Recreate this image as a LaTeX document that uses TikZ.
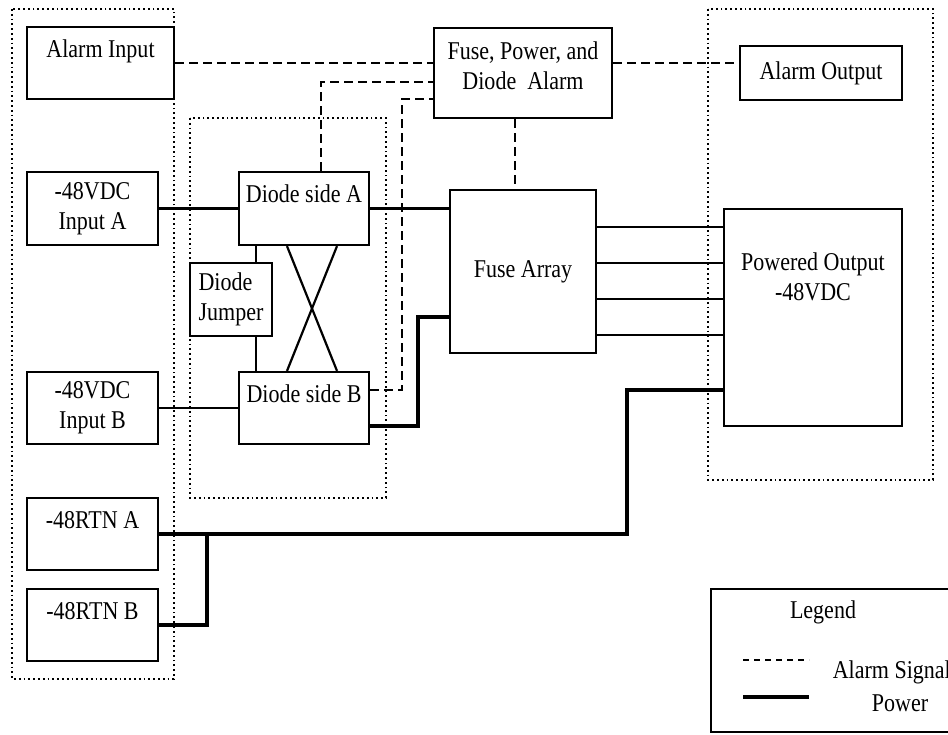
\documentclass[tikz,border=0pt]{standalone}
\usepackage{fontspec}
\setmainfont{Liberation Serif}[FakeStretch=0.86]
\begin{document}
\begin{tikzpicture}[x=0.5pt, y=-0.5pt, line width=1.1pt,
    font=\fontsize{12.8}{15}\selectfont,
    box/.style={draw, inner sep=2pt, align=center},
    toptext/.style={text depth=14.5pt},
    power/.style={line width=1.1pt},
    heavy/.style={line width=1.6pt},
    alarm/.style={line width=0.9pt, dash pattern=on 4.5pt off 2.5pt},
    group/.style={line width=0.9pt, dash pattern=on 0.9pt off 1.5pt}]
  \useasboundingbox (0,0) rectangle (948,734);
  \clip (0,0) rectangle (948,734);
  % groups
  \draw [group] (12,9) rectangle (174,679);
  \draw [group] (190,118) rectangle (386,498);
  \draw [group] (708,9) rectangle (933,480);
  % boxes
  \node [box, toptext, minimum width=73.5pt, minimum height=36pt] (ain) at (100.5,63) {Alarm Input};
  \node [box, minimum width=65.5pt, minimum height=36.5pt] (vina) at (92.5,208.5) {-48VDC\\Input A};
  \node [box, minimum width=65.5pt, minimum height=36pt] (vinb) at (92.5,408) {-48VDC\\Input B};
  \node [box, toptext, minimum width=65.5pt, minimum height=36pt] (rtna) at (92.5,534) {-48RTN A};
  \node [box, toptext, minimum width=65.5pt, minimum height=36pt] (rtnb) at (92.5,625) {-48RTN B};
  \node [box, toptext, minimum width=65pt, minimum height=36.5pt] (dsa) at (304,208.5) {Diode side A};
  \node [box, toptext, minimum width=65pt, minimum height=36pt] (dsb) at (304,408) {Diode side B};
  \node [box, align=left, minimum width=41pt, minimum height=36.5pt] (jmp) at (231,299.5) {Diode\\Jumper};
  \node [box, text depth=7pt, minimum width=89pt, minimum height=45pt] (fpa) at (523,73) {Fuse, Power, and\\Diode~~Alarm};
  \node [box, minimum width=81pt, minimum height=27pt] (aout) at (821,73) {Alarm Output};
  \node [box, minimum width=73pt, minimum height=81.5pt] (fuse) at (523,271.5) {Fuse Array};
  \node [box, text depth=41pt, minimum width=89pt, minimum height=108.5pt] (pout) at (813,317.5) {Powered Output\\-48VDC};
  % power
  \draw [power] (vina) -- (dsa);
  \draw [power] (vinb) -- (dsb);
  \draw [power] (dsa.east) -- (dsa.east -| fuse.west);
  \draw [heavy] (dsb.east |- 0,426) -| (418,317) -- (fuse.west |- 0,317);
  \draw [power] (dsa.south -| 256,0) -- (jmp.north -| 256,0);
  \draw [power] (jmp.south -| 256,0) -- (dsb.north -| 256,0);
  \draw [power] (dsa.south -| 287,0) -- (dsb.north -| 337,0);
  \draw [power] (dsa.south -| 337,0) -- (dsb.north -| 287,0);
  \foreach \y in {227,263,299,335}
    \draw [power] (fuse.east |- 0,\y) -- (pout.west |- 0,\y);
  \coordinate (tee) at (207,534);
  \draw [heavy] (pout.west |- 0,390) -| (627,534) -- (rtna.east);
  \draw [heavy] (tee) |- (rtnb.east);
  % alarms
  \draw [alarm] (ain.east) -- (ain.east -| fpa.west);
  \draw [alarm] (dsa.north -| 321,0) |- (fpa.west |- 0,82);
  \draw [alarm] (dsb.east |- 0,390) -| (402,99) -- (fpa.west |- 0,99);
  \draw [alarm] (fpa.east |- ain.east) -- (aout.west |- ain.east);
  \draw [alarm] (fpa.south -| 515,0) -- (fuse.north -| 515,0);
  % legend
  \draw [power] (711,589) rectangle (960,732);
  \node (leg) at (823,612) {Legend};
  \draw [alarm, dash pattern=on 3pt off 2.5pt] (743,660) -- (809,660);
  \draw [heavy] (743,697) -- (809,697);
  \node [anchor=west] (sig) at (825,672) {Alarm Signal};
  \node (pwr) at (900,703) {Power};
\end{tikzpicture}
\end{document}
